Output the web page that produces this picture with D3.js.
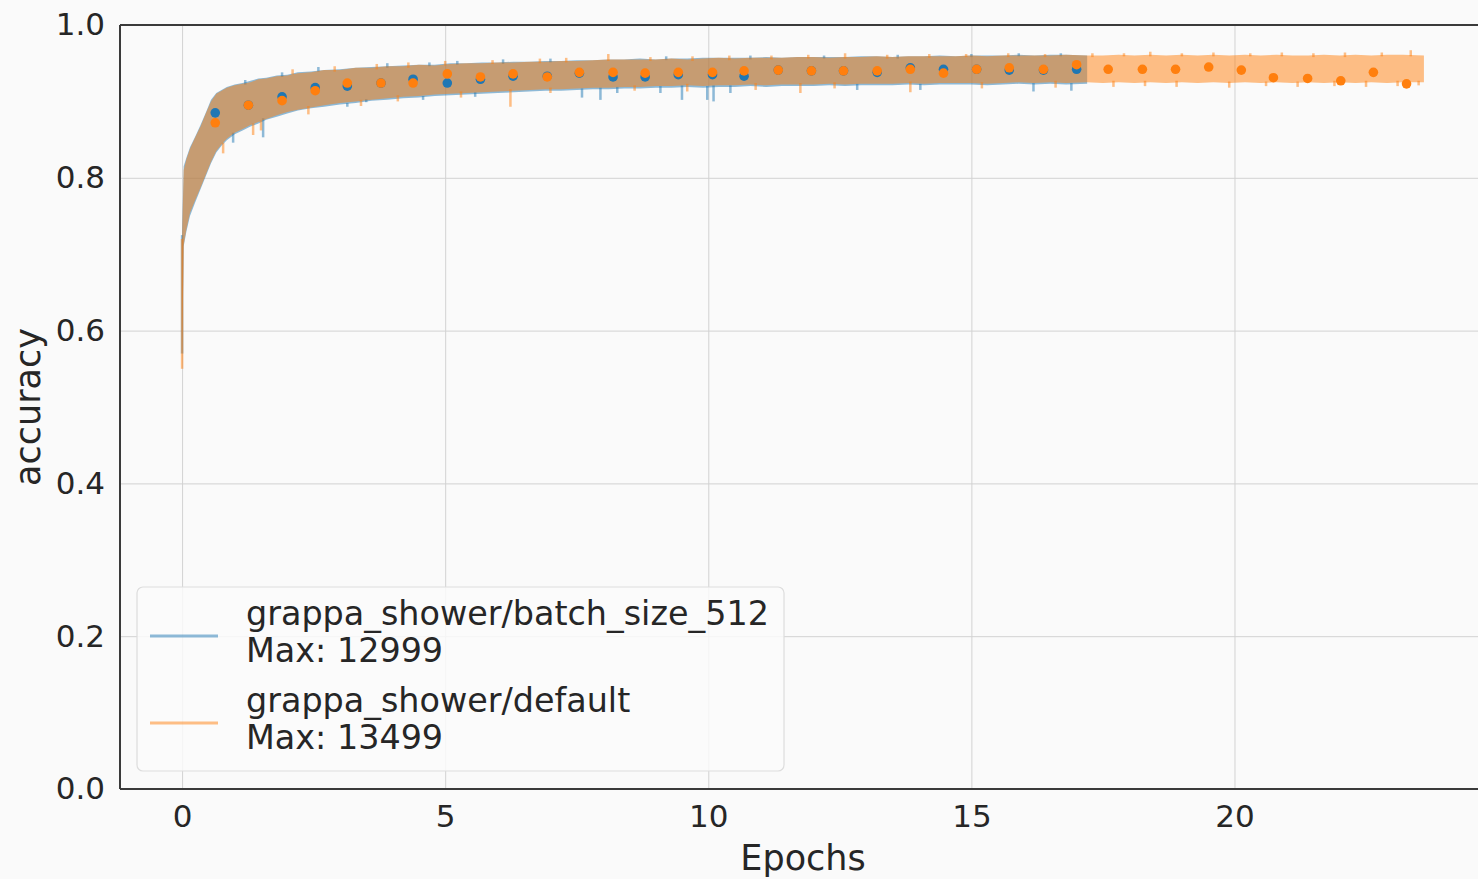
<!DOCTYPE html>
<html>
<head>
<meta charset="utf-8">
<script src="https://cdn.jsdelivr.net/npm/d3@7"></script>
<style>
  body { margin: 0; background: #fafafa; }
  text { font-family: "DejaVu Sans", sans-serif; fill: #262626; }
</style>
</head>
<body>
<svg id="chart" width="1478" height="879"></svg>
<script>
const epochs = [0, 0.03, 0.08, 0.15, 0.25, 0.35, 0.45, 0.55, 0.65, 0.75, 0.85, 1.0, 1.15, 1.3, 1.45, 1.6, 1.8, 2.0, 2.2, 2.45,
  2.7, 3.0, 3.3, 3.6, 3.9, 4.2, 4.5, 4.8, 5.1, 5.4, 5.7, 6.0, 6.3, 6.6, 6.9, 7.2, 7.5, 7.8, 8.1, 8.4,
  8.7, 9.0, 9.3, 9.6, 9.9, 10.2, 10.5, 10.8, 11.1, 11.4, 11.7, 12.0, 12.3, 12.6, 12.9, 13.2, 13.5, 13.8, 14.1, 14.4,
  14.7, 15.0, 15.3, 15.6, 15.9, 16.2, 16.5, 16.8, 17.2, 17.5, 17.8, 18.1, 18.4, 18.7, 19.0, 19.3, 19.6, 19.9, 20.2, 20.5,
  20.8, 21.1, 21.4, 21.7, 22.0, 22.3, 22.6, 22.9, 23.2, 23.6];

const orangeLo = [0.550, 0.712, 0.732, 0.754, 0.771, 0.787, 0.804, 0.821, 0.835, 0.844, 0.851, 0.859, 0.864, 0.869, 0.873, 0.877, 0.882, 0.886, 0.889, 0.892,
  0.895, 0.898, 0.900, 0.902, 0.904, 0.906, 0.907, 0.909, 0.910, 0.911, 0.912, 0.913, 0.914, 0.915, 0.916, 0.916, 0.917, 0.918, 0.918, 0.919,
  0.919, 0.920, 0.920, 0.921, 0.920, 0.921, 0.921, 0.922, 0.921, 0.922, 0.922, 0.922, 0.923, 0.922, 0.923, 0.923, 0.923, 0.924, 0.923, 0.924,
  0.924, 0.924, 0.923, 0.924, 0.925, 0.924, 0.925, 0.924, 0.925, 0.924, 0.925, 0.924, 0.925, 0.924, 0.925, 0.924, 0.925, 0.924, 0.925, 0.924,
  0.925, 0.924, 0.925, 0.924, 0.925, 0.924, 0.925, 0.924, 0.925, 0.925];
const orangeHi = [0.720, 0.810, 0.824, 0.838, 0.853, 0.867, 0.884, 0.900, 0.910, 0.914, 0.918, 0.921, 0.923, 0.925, 0.929, 0.930, 0.933, 0.934, 0.937, 0.938,
  0.941, 0.941, 0.944, 0.944, 0.946, 0.946, 0.948, 0.947, 0.949, 0.950, 0.950, 0.951, 0.951, 0.952, 0.952, 0.953, 0.953, 0.954, 0.955, 0.955,
  0.955, 0.955, 0.956, 0.955, 0.956, 0.957, 0.956, 0.957, 0.957, 0.957, 0.958, 0.958, 0.957, 0.958, 0.958, 0.959, 0.958, 0.959, 0.959, 0.959,
  0.959, 0.960, 0.959, 0.960, 0.960, 0.960, 0.960, 0.961, 0.960, 0.960, 0.961, 0.960, 0.961, 0.960, 0.961, 0.960, 0.961, 0.960, 0.961, 0.960,
  0.961, 0.960, 0.960, 0.961, 0.960, 0.961, 0.960, 0.961, 0.961, 0.960];

// blue run stops at ~17.2 epochs (first 69 epoch samples)
const blueLo = [0.570, 0.710, 0.729, 0.750, 0.768, 0.785, 0.802, 0.819, 0.833, 0.842, 0.849, 0.857, 0.862, 0.867, 0.871, 0.876, 0.880, 0.884, 0.888, 0.891,
  0.893, 0.896, 0.898, 0.901, 0.902, 0.904, 0.905, 0.907, 0.908, 0.909, 0.910, 0.911, 0.912, 0.913, 0.914, 0.914, 0.915, 0.916, 0.916, 0.917,
  0.917, 0.918, 0.918, 0.919, 0.918, 0.919, 0.919, 0.920, 0.919, 0.920, 0.920, 0.920, 0.921, 0.920, 0.921, 0.921, 0.921, 0.922, 0.921, 0.922,
  0.922, 0.922, 0.921, 0.922, 0.923, 0.922, 0.923, 0.922, 0.923];
const blueHi = [0.725, 0.815, 0.826, 0.840, 0.854, 0.869, 0.885, 0.902, 0.911, 0.915, 0.919, 0.922, 0.924, 0.927, 0.930, 0.931, 0.934, 0.935, 0.938, 0.939,
  0.941, 0.942, 0.944, 0.945, 0.946, 0.947, 0.948, 0.948, 0.950, 0.950, 0.951, 0.951, 0.952, 0.952, 0.953, 0.953, 0.954, 0.954, 0.955, 0.955,
  0.956, 0.955, 0.956, 0.956, 0.957, 0.957, 0.957, 0.957, 0.958, 0.957, 0.958, 0.958, 0.958, 0.958, 0.959, 0.959, 0.958, 0.959, 0.959, 0.960,
  0.959, 0.960, 0.960, 0.960, 0.961, 0.960, 0.961, 0.961, 0.960];

// noise peaks sticking out of the band edges [epoch, accuracy]
const blueSpikes = [[0.34, 0.787], [0.97, 0.846], [1.2, 0.928], [1.54, 0.853], [1.9, 0.938], [2.59, 0.945], [3.14, 0.893],
  [3.5, 0.899], [3.9, 0.950], [4.58, 0.902], [4.7, 0.951], [5.23, 0.953], [5.57, 0.906], [6.1, 0.955], [7.0, 0.956],
  [7.6, 0.905], [7.95, 0.902], [8.27, 0.911], [9.09, 0.911], [9.2, 0.959], [9.5, 0.902], [9.98, 0.902], [10.1, 0.900],
  [10.42, 0.911], [10.8, 0.960], [12.2, 0.960], [12.83, 0.915], [13.6, 0.961], [14.03, 0.915], [15.0, 0.962],
  [15.9, 0.963], [16.18, 0.913], [16.7, 0.963], [16.9, 0.914]];
const orangeSpikes = [[0.78, 0.832], [1.35, 0.856], [1.5, 0.862], [2.1, 0.942], [2.4, 0.883], [2.9, 0.946], [3.4, 0.894],
  [3.7, 0.949], [4.1, 0.900], [4.3, 0.951], [5.0, 0.953], [5.3, 0.905], [5.9, 0.954], [6.24, 0.893], [6.8, 0.956],
  [7.0, 0.911], [7.3, 0.957], [8.1, 0.962], [8.6, 0.914], [8.9, 0.958], [9.6, 0.913], [9.7, 0.959], [10.4, 0.960],
  [10.9, 0.915], [11.2, 0.960], [11.75, 0.911], [11.9, 0.961], [12.4, 0.917], [12.6, 0.963], [13.4, 0.961], [13.84, 0.912],
  [14.2, 0.962], [14.9, 0.962], [15.2, 0.917], [15.7, 0.963], [16.4, 0.962], [16.6, 0.918], [17.3, 0.963], [17.7, 0.919],
  [17.9, 0.963], [18.3, 0.920], [18.4, 0.965], [18.9, 0.919], [19.0, 0.963], [19.6, 0.964], [19.9, 0.918], [20.3, 0.963],
  [20.6, 0.920], [20.9, 0.964], [21.2, 0.919], [21.5, 0.963], [21.9, 0.920], [22.1, 0.964], [22.5, 0.919], [22.8, 0.964],
  [23.1, 0.920], [23.35, 0.967], [23.5, 0.921]];

// validation points
const valEpochs = [0.63, 1.26, 1.90, 2.53, 3.14, 3.78, 4.39, 5.04, 5.67, 6.29, 6.94, 7.55, 8.19, 8.80, 9.43, 10.08, 10.68, 11.33,
  11.96, 12.57, 13.21, 13.84, 14.47, 15.10, 15.72, 16.37, 17.00, 17.60, 18.25, 18.88, 19.51, 20.13, 20.74, 21.39, 22.02, 22.64, 23.27];
const blueVal = [0.885, 0.895, 0.906, 0.918, 0.920, 0.924, 0.929, 0.924, 0.929, 0.933, 0.933, 0.937, 0.932, 0.932, 0.935, 0.935, 0.933,
  0.941, 0.940, 0.940, 0.938, 0.944, 0.942, 0.942, 0.941, 0.941, 0.942];
const orangeVal = [0.872, 0.895, 0.901, 0.914, 0.924, 0.924, 0.924, 0.936, 0.932, 0.936, 0.932, 0.938, 0.938, 0.937, 0.938, 0.938, 0.940,
  0.941, 0.940, 0.940, 0.940, 0.942, 0.937, 0.942, 0.944, 0.942, 0.948, 0.942, 0.942, 0.942, 0.945, 0.941, 0.931, 0.930, 0.927, 0.938, 0.923];

const xTicks = [0, 5, 10, 15, 20];
const yTicks = [0, 0.2, 0.4, 0.6, 0.8, 1.0];
const legendNames = ["grappa_shower/batch_size_512", "grappa_shower/default"];
const legendMax = ["Max: 12999", "Max: 13499"];

const blue = "#1f77b4", orange = "#ff7f0e";

var margin = {top: 25, left: 120},
    width = 1366, height = 764;

var svg = d3.select("#chart");

var x = d3.scaleLinear().domain([-1.18, 24.78]).range([margin.left, margin.left + width]);
var y = d3.scaleLinear().domain([0, 1]).range([margin.top + height, margin.top]);

svg.append("rect").attr("width", 1478).attr("height", 879).attr("fill", "#fafafa");

// grid + tick labels
var gx = svg.append("g")
  .attr("transform", "translate(0," + (margin.top + height) + ")")
  .call(d3.axisBottom(x).tickValues(xTicks).tickSize(-height).tickPadding(16).tickFormat(d3.format("d")));
var gy = svg.append("g")
  .attr("transform", "translate(" + margin.left + ",0)")
  .call(d3.axisLeft(y).tickValues(yTicks).tickSize(-width).tickPadding(15).tickFormat(d3.format(".1f")));
[gx, gy].forEach(function(g) {
  g.select(".domain").remove();
  g.selectAll(".tick line").attr("stroke", "#d2d2d2").attr("stroke-width", 1);
  g.selectAll(".tick text").style("font-size", "31px").attr("fill", "#262626");
});

function band(lo, hi) {
  return d3.area()
    .x(function(d, i) { return x(epochs[i]); })
    .y0(function(d, i) { return y(lo[i]); })
    .y1(function(d, i) { return y(hi[i]); })(lo);
}

// nearest band edge for a spike: start at hi for peaks, at lo for dips
function edgeAt(lo, hi, e, v) {
  var i = Math.min(d3.bisectLeft(epochs, e), lo.length - 1);
  if (i > 0 && Math.abs(epochs[i - 1] - e) < Math.abs(epochs[i] - e)) i = i - 1;
  return v > (lo[i] + hi[i]) / 2 ? hi[i] - 0.002 : lo[i] + 0.002;
}

function drawRun(lo, hi, spikes, color) {
  svg.append("path").attr("d", band(lo, hi)).attr("fill", color).attr("fill-opacity", 0.5);
  // first logged step: the curve climbs straight up from its starting value
  svg.append("line")
    .attr("x1", x(epochs[0])).attr("x2", x(epochs[0]))
    .attr("y1", y(lo[0])).attr("y2", y(hi[0]))
    .attr("stroke", color).attr("stroke-opacity", 0.5).attr("stroke-width", 2.5);
  svg.append("g").selectAll("line").data(spikes).enter().append("line")
    .attr("x1", function(d) { return x(d[0]); })
    .attr("x2", function(d) { return x(d[0]); })
    .attr("y1", function(d) { return y(edgeAt(lo, hi, d[0], d[1])); })
    .attr("y2", function(d) { return y(d[1]); })
    .attr("stroke", color).attr("stroke-opacity", 0.5).attr("stroke-width", 2.5);
}

drawRun(blueLo, blueHi, blueSpikes, blue);
drawRun(orangeLo, orangeHi, orangeSpikes, orange);

svg.append("g").selectAll("circle").data(blueVal).enter().append("circle")
  .attr("cx", function(d, i) { return x(valEpochs[i]); })
  .attr("cy", function(d) { return y(d); })
  .attr("r", 4.8).attr("fill", blue);
svg.append("g").selectAll("circle").data(orangeVal).enter().append("circle")
  .attr("cx", function(d, i) { return x(valEpochs[i]); })
  .attr("cy", function(d) { return y(d); })
  .attr("r", 4.8).attr("fill", orange);

// spines
var sp = svg.append("g").attr("stroke", "#3a3a3a").attr("stroke-width", 2);
sp.append("line").attr("x1", margin.left).attr("x2", margin.left).attr("y1", margin.top).attr("y2", margin.top + height);
sp.append("line").attr("x1", margin.left).attr("x2", margin.left + width).attr("y1", margin.top + height).attr("y2", margin.top + height);
sp.append("line").attr("x1", margin.left).attr("x2", margin.left + width).attr("y1", margin.top).attr("y2", margin.top);

// axis labels
svg.append("text").attr("x", margin.left + width / 2).attr("y", 870)
  .attr("text-anchor", "middle").style("font-size", "35px").text("Epochs");
svg.append("text").attr("transform", "translate(40," + (margin.top + height / 2) + ") rotate(-90)")
  .attr("text-anchor", "middle").style("font-size", "35px").text("accuracy");

// legend
var lg = svg.append("g");
lg.append("rect").attr("x", 137).attr("y", 587).attr("width", 647).attr("height", 184).attr("rx", 6)
  .attr("fill", "#fafafa").attr("fill-opacity", 0.85).attr("stroke", "#dddddd").attr("stroke-width", 1.2);
[blue, orange].forEach(function(c, i) {
  var top = 587 + i * 87;
  lg.append("line").attr("x1", 150).attr("x2", 218).attr("y1", top + 49).attr("y2", top + 49)
    .attr("stroke", c).attr("stroke-opacity", 0.5).attr("stroke-width", 3);
  lg.append("text").attr("x", 246).attr("y", top + 38).style("font-size", "33.4px").text(legendNames[i]);
  lg.append("text").attr("x", 246).attr("y", top + 75).style("font-size", "33.4px").text(legendMax[i]);
});
</script>
</body>
</html>
